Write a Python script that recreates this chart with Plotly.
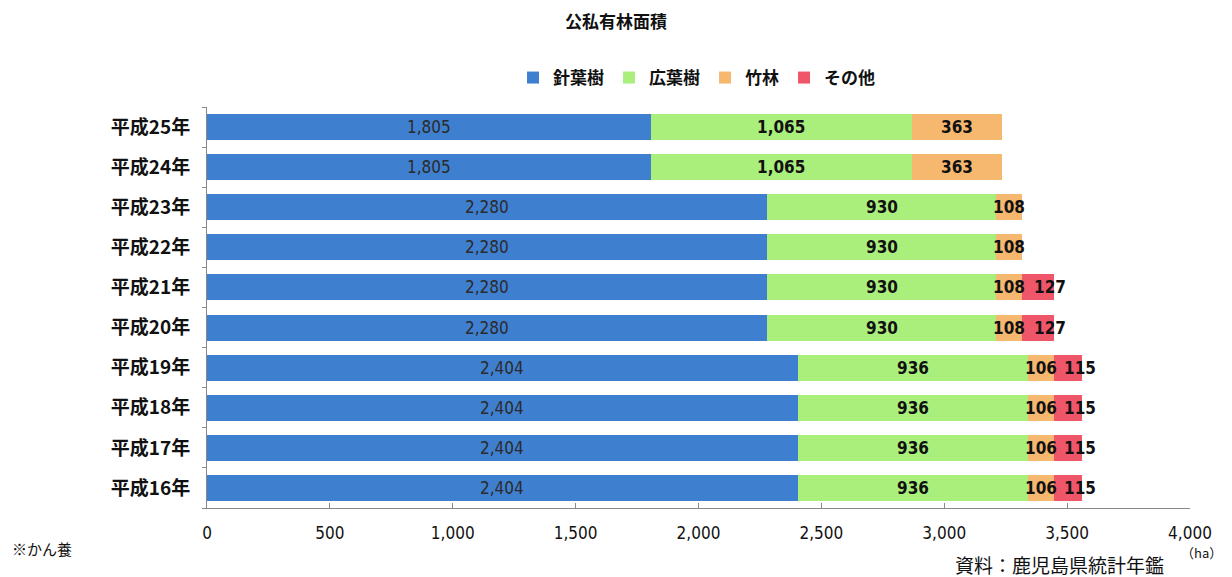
import plotly.graph_objects as go

# 公私有林面積 (ha) by year
years = ["平成16年", "平成17年", "平成18年", "平成19年", "平成20年",
         "平成21年", "平成22年", "平成23年", "平成24年", "平成25年"]
conifer = [2404, 2404, 2404, 2404, 2280, 2280, 2280, 2280, 1805, 1805]
broadleaf = [936, 936, 936, 936, 930, 930, 930, 930, 1065, 1065]
bamboo = [106, 106, 106, 106, 108, 108, 108, 108, 363, 363]
other = [115, 115, 115, 115, 127, 127, 0, 0, 0, 0]

# name, values, fill, label colour, bold label, label pixel shift
series = [
    ("針葉樹", conifer, "#3f7fcf", "#2a2a2a", False, 0),
    ("広葉樹", broadleaf, "#aaee7c", "#111111", True, 0),
    ("竹林", bamboo, "#f5b86e", "#111111", True, 0),
    ("その他", other, "#f0566a", "#111111", True, 12),
]

NUM_FONT = "DejaVu Sans Condensed, Liberation Sans Narrow, sans-serif"

fig = go.Figure()
base = [0] * len(years)
for name, vals, color, tcolor, bold, shift in series:
    fig.add_trace(go.Bar(
        y=years, x=vals, name=name, orientation="h",
        marker=dict(color=color, line=dict(width=0)),
    ))
    # value labels centred on each segment
    for yr, b, v in zip(years, base, vals):
        if v:
            fig.add_annotation(
                x=b + v / 2, y=yr, xref="x", yref="y", text=f"{v:,}",
                showarrow=False, xanchor="center", yanchor="middle", xshift=shift,
                font=dict(family=NUM_FONT, size=17, color=tcolor,
                          weight="bold" if bold else "normal"),
            )
    base = [b + v for b, v in zip(base, vals)]

fig.update_layout(
    width=1232, height=577,
    barmode="stack", bargap=0.35,
    paper_bgcolor="white", plot_bgcolor="white",
    margin=dict(l=207, r=42, t=107, b=69),
    font=dict(family="Noto Sans CJK JP", color="#111111"),
    title=dict(text="<b>公私有林面積</b>", x=0.5, xanchor="center",
               y=1 - 22 / 577, yanchor="middle",
               font=dict(size=17, color="#111111")),
    legend=dict(orientation="h", x=0.498, xanchor="center",
                y=1 + 29 / 401, yanchor="middle",
                font=dict(size=17, color="#111111", weight="bold"),
                itemwidth=30, tracegroupgap=0,
                traceorder="normal"),
    xaxis=dict(range=[0, 4000], tickvals=[0, 500, 1000, 1500, 2000, 2500, 3000, 3500, 4000],
               tickformat=",", showgrid=False, zeroline=False,
               showline=True, linecolor="#888888", linewidth=1,
               ticks="inside", ticklen=5, tickcolor="#888888",
               ticklabelstandoff=10,
               tickfont=dict(family=NUM_FONT, size=17, color="#111111")),
    yaxis=dict(categoryorder="array", categoryarray=years,
               showgrid=False, showline=True, linecolor="#888888", linewidth=1,
               ticks="outside", tickson="boundaries", ticklen=4, tickcolor="#888888",
               ticklabelstandoff=12,
               tickfont=dict(size=19, color="#111111", weight="bold")),
)

fig.add_annotation(text="※かん養", xref="paper", yref="paper",
                   x=(10 - 207) / 983, y=-40 / 401, xanchor="left", yanchor="middle",
                   showarrow=False, font=dict(size=15, color="#111111"))
fig.add_annotation(text="資料：鹿児島県統計年鑑", xref="paper", yref="paper",
                   x=(1166 - 207) / 983, y=-56 / 401, xanchor="right", yanchor="middle",
                   showarrow=False, font=dict(size=19, color="#111111"))
fig.add_annotation(text="（ha）", xref="paper", yref="paper",
                   x=(1224 - 207) / 983, y=-44 / 401, xanchor="right", yanchor="middle",
                   showarrow=False, font=dict(size=13, color="#111111"))

fig.write_html("out.html")
